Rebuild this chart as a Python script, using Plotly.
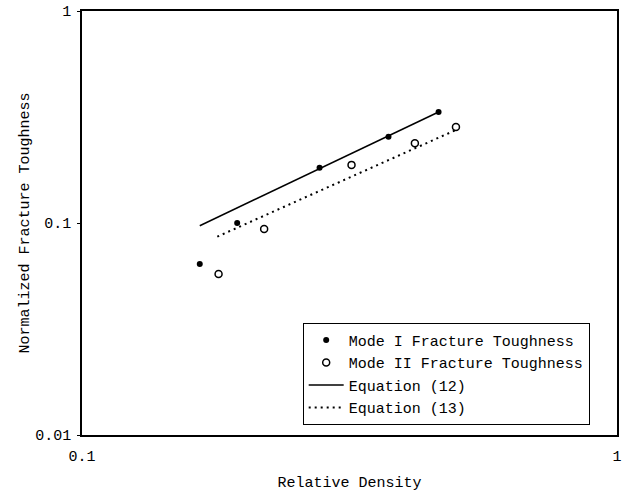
import plotly.graph_objects as go

# Data
mode1_density = [0.166, 0.195, 0.278, 0.374, 0.464]
mode1_toughness = [0.064, 0.100, 0.182, 0.255, 0.334]

mode2_density = [0.180, 0.219, 0.319, 0.419, 0.500]
mode2_toughness = [0.0575, 0.0937, 0.188, 0.238, 0.284]

eq12_density = [0.166, 0.464]
eq12_toughness = [0.0971, 0.334]

eq13_density = [0.179, 0.500]
eq13_toughness = [0.0862, 0.2747]

x_tickvals = [0.1, 1]
x_ticktext = ["0.1", "1"]
y_tickvals = [0.01, 0.1, 1]
y_ticktext = ["0.01", "0.1", "1"]

FONT = "Courier New, Liberation Mono, monospace"

fig = go.Figure()
fig.add_trace(go.Scatter(
    x=mode1_density, y=mode1_toughness, mode="markers",
    name="Mode I Fracture Toughness",
    marker=dict(symbol="circle", size=6, color="black"),
))
fig.add_trace(go.Scatter(
    x=mode2_density, y=mode2_toughness, mode="markers",
    name="Mode II Fracture Toughness",
    marker=dict(symbol="circle-open", size=7, color="black", line=dict(width=1.5)),
))
fig.add_trace(go.Scatter(
    x=eq12_density, y=eq12_toughness, mode="lines",
    name="Equation (12)",
    line=dict(color="black", width=1.5),
))
fig.add_trace(go.Scatter(
    x=eq13_density, y=eq13_toughness, mode="lines",
    name="Equation (13)",
    line=dict(color="black", width=2, dash="2px,4px"),
))

fig.update_layout(
    width=632, height=496,
    margin=dict(l=82, r=15, t=11, b=61),
    paper_bgcolor="white", plot_bgcolor="white",
    font=dict(family=FONT, size=15, color="black"),
    showlegend=True,
    legend=dict(
        x=0.4125, y=0.2645, xanchor="left", yanchor="top",
        bgcolor="white", bordercolor="black", borderwidth=1,
        font=dict(family=FONT, size=15, color="black"),
        tracegroupgap=0, itemwidth=35,
    ),
)
fig.update_xaxes(
    type="log", range=[-1, 0], automargin=False,
    tickvals=x_tickvals, ticktext=x_ticktext,
    showgrid=False, zeroline=False,
    showline=True, linecolor="black", linewidth=1.5, mirror=True,
    ticks="", ticklabelstandoff=6, tickfont=dict(family=FONT, size=15),
    title=dict(text="Relative Density", font=dict(family=FONT, size=15), standoff=12),
)
fig.update_yaxes(
    type="log", range=[-2, 0], automargin=False,
    tickvals=y_tickvals, ticktext=y_ticktext,
    showgrid=False, zeroline=False,
    showline=True, linecolor="black", linewidth=1.5, mirror=True,
    ticks="outside", ticklen=3, tickcolor="black",
    ticklabelstandoff=3,
    tickfont=dict(family=FONT, size=15),
    title=dict(text="Normalized Fracture Toughness", font=dict(family=FONT, size=15), standoff=2),
)

fig.write_html("out.html", config={"displayModeBar": False},
               post_script="document.body.style.margin='0';")
